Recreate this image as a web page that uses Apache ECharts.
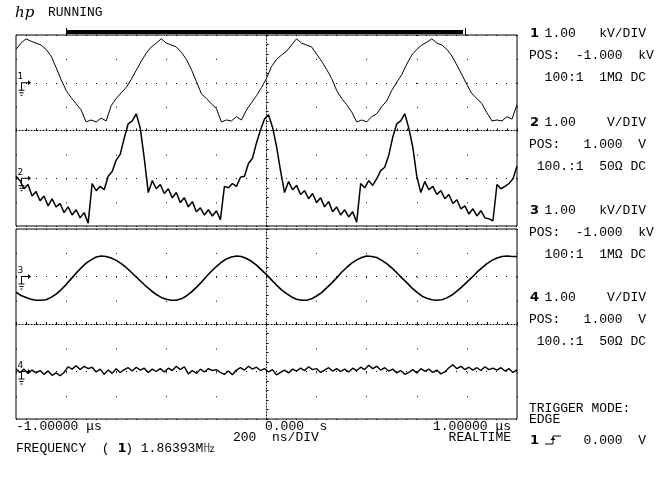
<!DOCTYPE html>
<html><head><meta charset="utf-8">
<script src="https://cdn.jsdelivr.net/npm/echarts@6/dist/echarts.min.js"></script>
<style>html,body{margin:0;padding:0;background:#fff}#c{width:672px;height:496px}</style>
</head><body><div id="c"></div>
<script>
// ---- time base (ns) ----
const T_MIN_NS = -1000;
const T_MAX_NS = 1000;
const T_DIV_NS = 200;

// ---- channel 1 (kV), one sample every 20 ns ----
const CH1_STEP_NS = 20;
const CH1_KV = [0.70,0.83,0.92,0.87,0.83,0.79,0.70,0.56,0.32,0.07,
-0.16,-0.31,-0.44,-0.57,-0.82,-0.78,-0.82,-0.74,-0.80,-0.48,
-0.33,-0.21,-0.10,0.07,0.26,0.45,0.62,0.75,0.83,0.92,
0.83,0.79,0.75,0.64,0.49,0.28,0.03,-0.23,-0.33,-0.44,
-0.54,-0.82,-0.78,-0.80,-0.71,-0.78,-0.57,-0.42,-0.27,-0.10,
0.09,0.34,0.49,0.58,0.66,0.79,0.92,0.83,0.79,0.75,
0.60,0.45,0.28,0.09,-0.16,-0.33,-0.46,-0.61,-0.82,-0.78,
-0.82,-0.71,-0.65,-0.50,-0.38,-0.16,0.01,0.17,0.39,0.58,
0.70,0.79,0.85,0.92,0.83,0.79,0.70,0.56,0.37,0.17,
-0.04,-0.23,-0.33,-0.44,-0.63,-0.80,-0.78,-0.80,-0.71,-0.76,-0.46];

// ---- channel 2 (V), one sample every 16 ns ----
const CH2_STEP_NS = 16;
const CH2_V = [0.04,-0.05,-0.22,-0.13,-0.37,-0.28,-0.47,-0.37,-0.58,-0.43,
-0.60,-0.53,-0.72,-0.60,-0.77,-0.66,-0.83,-0.72,-0.94,-0.11,
-0.26,-0.17,-0.24,0.04,0.14,0.38,0.50,0.84,1.14,1.20,
1.35,1.05,0.42,-0.30,-0.05,-0.22,-0.13,-0.32,-0.22,-0.41,
-0.30,-0.51,-0.41,-0.60,-0.49,-0.70,-0.62,-0.77,-0.66,-0.79,
-0.68,-0.87,-0.17,-0.20,-0.11,-0.17,0.02,0.04,0.31,0.42,
0.74,1.01,1.24,1.33,1.07,0.67,0.16,-0.30,-0.07,-0.24,
-0.15,-0.34,-0.26,-0.43,-0.32,-0.51,-0.41,-0.60,-0.49,-0.70,
-0.60,-0.77,-0.66,-0.81,-0.70,-0.92,-0.11,-0.20,-0.05,-0.15,
-0.01,0.16,0.23,0.48,0.86,1.14,1.20,1.35,1.05,0.65,
0.04,-0.30,-0.07,-0.24,-0.17,-0.34,-0.26,-0.43,-0.34,-0.53,
-0.45,-0.64,-0.58,-0.75,-0.64,-0.79,-0.68,-0.83,-0.85,-0.89,
-0.13,-0.22,-0.17,-0.11,-0.01,0.25];

// ---- channel 3 (kV), one sample every 20 ns ----
const CH3_STEP_NS = 20;
const CH3_KV = [-0.33,-0.40,-0.44,-0.48,-0.50,-0.50,-0.49,-0.44,-0.37,-0.28,
-0.17,-0.05,0.07,0.18,0.28,0.35,0.41,0.43,0.42,0.39,
0.34,0.27,0.19,0.09,-0.01,-0.11,-0.21,-0.30,-0.38,-0.44,
-0.48,-0.50,-0.50,-0.47,-0.41,-0.33,-0.23,-0.12,0.00,0.11,
0.21,0.30,0.37,0.41,0.43,0.42,0.38,0.32,0.24,0.14,
0.04,-0.07,-0.18,-0.28,-0.36,-0.43,-0.48,-0.50,-0.50,-0.47,
-0.41,-0.34,-0.24,-0.14,-0.03,0.09,0.19,0.28,0.35,0.40,
0.43,0.42,0.40,0.34,0.27,0.18,0.08,-0.03,-0.13,-0.24,
-0.33,-0.41,-0.46,-0.49,-0.50,-0.49,-0.45,-0.39,-0.31,-0.22,
-0.12,-0.02,0.09,0.18,0.27,0.34,0.39,0.42,0.43,0.42,0.42];

// ---- channel 4 (V), one sample every 16 ns ----
const CH4_STEP_NS = 16;
const CH4_V = [0.06,-0.02,0.05,-0.04,0.03,-0.03,0.02,-0.06,0.01,
-0.08,-0.03,-0.09,-0.02,
0.10,0.05,0.12,0.04,0.11,0.06,0.09,
-0.01,0.05,-0.06,0.03,-0.04,0.06,-0.02,0.04,
0.08,0.01,0.09,0.03,0.07,-0.02,0.05,0.00,
0.06,-0.01,0.07,0.02,0.11,0.04,0.10,
-0.05,0.02,-0.04,0.05,-0.01,
0.06,0.02,0.04,-0.02,-0.06,0.01,-0.07,0.03,
0.08,0.03,0.11,0.05,0.09,0.02,0.06,
-0.01,0.04,-0.07,-0.02,0.03,-0.03,0.05,0.01,
0.07,0.02,0.10,0.04,0.06,-0.02,0.03,
0.08,0.01,0.06,0.00,0.05,-0.01,0.07,0.02,
0.09,0.04,0.13,0.06,0.11,0.03,0.08,
0.01,0.05,-0.03,0.02,-0.06,-0.02,0.04,-0.03,
0.06,0.01,0.05,-0.02,0.03,-0.05,-0.01,
0.08,0.14,0.06,0.11,0.04,
0.09,0.03,0.08,0.02,0.10,0.04,0.07,
0.03,0.08,0.01,0.06,-0.02,0.04];

// ---- channel screen ranges (4 divisions each), from V/DIV and POS ----
const CH_RANGES = [[-3, 1], [-1, 3], [-3, 1], [-1, 3]];
const CH_LABELS = ['1', '2', '3', '4'];

// ---- texts ----
const HEADER = ['hp', 'RUNNING'];
const CH_TEXT = [
  ['1', '1.00   kV/DIV', 'POS:  -1.000  kV', '  100:1  1M\u03A9 DC'],
  ['2', '1.00    V/DIV', 'POS:   1.000  V', ' 100.:1  50\u03A9 DC'],
  ['3', '1.00   kV/DIV', 'POS:  -1.000  kV', '  100:1  1M\u03A9 DC'],
  ['4', '1.00    V/DIV', 'POS:   1.000  V', ' 100.:1  50\u03A9 DC']
];
const TRIGGER_TEXT = ['TRIGGER MODE:', 'EDGE', '1', '0.000  V'];
const TIME_LABELS = ['-1.00000 \u03BCs', '0.000  s', '1.00000 \u03BCs'];
const TIMEBASE_TEXT = ['200  ns/DIV', 'REALTIME'];
const FREQ_TEXT = ['FREQUENCY  (', '1', ') 1.86393M\u3390'];

const toPairs = (arr, step) => arr.map((v, i) => [T_MIN_NS + i * step, v]);

const MONO = '13px "Liberation Mono", "DejaVu Sans Mono", monospace';
const BOLD = 'bold 13px "DejaVu Sans", "Liberation Sans", sans-serif';
const P = 7.8; // monospace pitch

const GROUND_PATH = 'path://M2 -0.5 L9 -0.5 L9 -2.5 L12 0 L9 2.5 L9 0.5 L3 0.5 L3 7 L5.5 7 L5.5 8 L-0.5 8 L-0.5 7 L2 7 Z M0.5 9.5 L4.5 9.5 L4.5 10.5 L0.5 10.5 Z M1.5 12 L3.5 12 L3.5 13 L1.5 13 Z';

function marker(label) {
  return {
    silent: true,
    symbol: GROUND_PATH,
    symbolSize: [12.5, 15.5],
    symbolKeepAspect: false,
    symbolOffset: [8.75, 5.25],
    itemStyle: { color: '#000' },
    label: { show: true, formatter: label, position: [-1, -8], color: '#000',
             fontSize: 9, fontFamily: 'DejaVu Sans', align: 'left', verticalAlign: 'top' },
    data: [{ coord: [T_MIN_NS, 0] }]
  };
}

function divYAxis(grid) {
  return {
    gridIndex: grid, type: 'value', min: -2, max: 2, interval: 1,
    axisLabel: { show: false },
    axisLine: { show: true, onZero: true, lineStyle: { color: '#000', width: 1, type: [1, 2] } },
    axisTick: { show: true, length: 2, inside: true, lineStyle: { color: '#000' } },
    minorTick: { show: true, splitNumber: 5, length: 2, lineStyle: { color: '#000' } },
    splitLine: { show: true, lineStyle: { color: '#000', width: 1, type: [1, 9] } }
  };
}
function xAxisFor(grid, divIdx) {
  return {
    gridIndex: grid, type: 'value', min: T_MIN_NS, max: T_MAX_NS, interval: T_DIV_NS,
    axisLabel: { show: false },
    axisLine: { show: true, onZero: true, onZeroAxisIndex: divIdx, lineStyle: { color: '#000', width: 1, type: [1, 2] } },
    axisTick: { show: true, length: 2, inside: true, lineStyle: { color: '#000' } },
    minorTick: { show: true, splitNumber: 5, length: 2, lineStyle: { color: '#000' } },
    splitLine: { show: true, lineStyle: { color: '#000', width: 1, type: [1, 22.9] } }
  };
}
function chYAxis(grid, r) {
  return { gridIndex: grid, type: 'value', min: r[0], max: r[1], show: false };
}
function trace(xi, yi, data, width, label) {
  return {
    type: 'line', xAxisIndex: xi, yAxisIndex: yi, data: data,
    showSymbol: false, symbol: 'none', silent: true, z: 5,
    lineStyle: { color: '#000', width: width },
    markPoint: marker(label)
  };
}

function txt(x, y, text, font, align) {
  return { type: 'text', x: x, y: y, silent: true, z: 10,
    style: { text: text, font: font || MONO, fill: '#000',
      textAlign: align || 'left', align: align || 'left',
      textVerticalAlign: 'middle', verticalAlign: 'middle' } };
}

const graphics = [];
graphics.push(txt(15, 13, HEADER[0], 'italic 15px "DejaVu Serif", serif'));
graphics.push(txt(48, 13, HEADER[1]));
// memory bar
graphics.push({ type: 'rect', shape: { x: 67, y: 30, width: 396, height: 4 }, style: { fill: '#000' }, silent: true });
graphics.push({ type: 'line', shape: { x1: 66.5, y1: 28, x2: 66.5, y2: 35 }, style: { stroke: '#000', lineWidth: 1 }, silent: true });
graphics.push({ type: 'line', shape: { x1: 465.5, y1: 28, x2: 465.5, y2: 35 }, style: { stroke: '#000', lineWidth: 1 }, silent: true });
graphics.push({ type: 'line', shape: { x1: 266.5, y1: 33, x2: 266.5, y2: 36 }, style: { stroke: '#000', lineWidth: 1 }, silent: true });

// channel setting blocks
const X0 = 529;
const BLOCK_Y = [34, 123, 211, 298];
CH_TEXT.forEach((b, i) => {
  const y = BLOCK_Y[i];
  graphics.push(txt(X0 + 1, y, b[0], BOLD));
  graphics.push(txt(X0 + 2 * P, y, b[1]));
  graphics.push(txt(X0, y + 22, b[2]));
  graphics.push(txt(X0, y + 44, b[3]));
});
graphics.push(txt(X0, 409, TRIGGER_TEXT[0]));
graphics.push(txt(X0, 420, TRIGGER_TEXT[1]));
graphics.push(txt(X0 + 1, 441, TRIGGER_TEXT[2], BOLD));
graphics.push({ type: 'polyline', shape: { points: [[545, 444], [553, 444], [553, 436], [561, 436]] }, style: { stroke: '#000', lineWidth: 1, fill: null }, silent: true });
graphics.push({ type: 'polygon', shape: { points: [[550.5, 440], [555.5, 440], [553, 437]] }, style: { fill: '#000' }, silent: true });
graphics.push(txt(X0 + 7 * P, 441, TRIGGER_TEXT[3]));

// time base texts
graphics.push(txt(16, 427, TIME_LABELS[0]));
graphics.push(txt(265, 427, TIME_LABELS[1]));
graphics.push(txt(511, 427, TIME_LABELS[2], MONO, 'right'));
graphics.push(txt(233, 438, TIMEBASE_TEXT[0]));
graphics.push(txt(511, 438, TIMEBASE_TEXT[1], MONO, 'right'));
graphics.push(txt(16, 449, FREQ_TEXT[0]));
graphics.push(txt(16 + 13 * P, 449, FREQ_TEXT[1], BOLD));
graphics.push(txt(16 + 14 * P, 449, FREQ_TEXT[2]));

const option = {
  animation: false,
  backgroundColor: '#fff',
  grid: [
    { left: 16, top: 35, width: 501, height: 191, show: true, borderColor: '#000', borderWidth: 1, containLabel: false },
    { left: 16, top: 229, width: 501, height: 190, show: true, borderColor: '#000', borderWidth: 1, containLabel: false }
  ],
  xAxis: [xAxisFor(0, 0), xAxisFor(1, 3)],
  yAxis: [
    divYAxis(0), chYAxis(0, CH_RANGES[0]), chYAxis(0, CH_RANGES[1]),
    divYAxis(1), chYAxis(1, CH_RANGES[2]), chYAxis(1, CH_RANGES[3])
  ],
  series: [
    trace(0, 1, toPairs(CH1_KV, CH1_STEP_NS), 1, CH_LABELS[0]),
    trace(0, 2, toPairs(CH2_V, CH2_STEP_NS), 1.5, CH_LABELS[1]),
    trace(1, 4, toPairs(CH3_KV, CH3_STEP_NS), 1.6, CH_LABELS[2]),
    trace(1, 5, toPairs(CH4_V, CH4_STEP_NS), 1.4, CH_LABELS[3])
  ],
  graphic: graphics
};
const chart = echarts.init(document.getElementById('c'), null, { renderer: 'canvas' });
chart.setOption(option);
</script>
</body></html>
